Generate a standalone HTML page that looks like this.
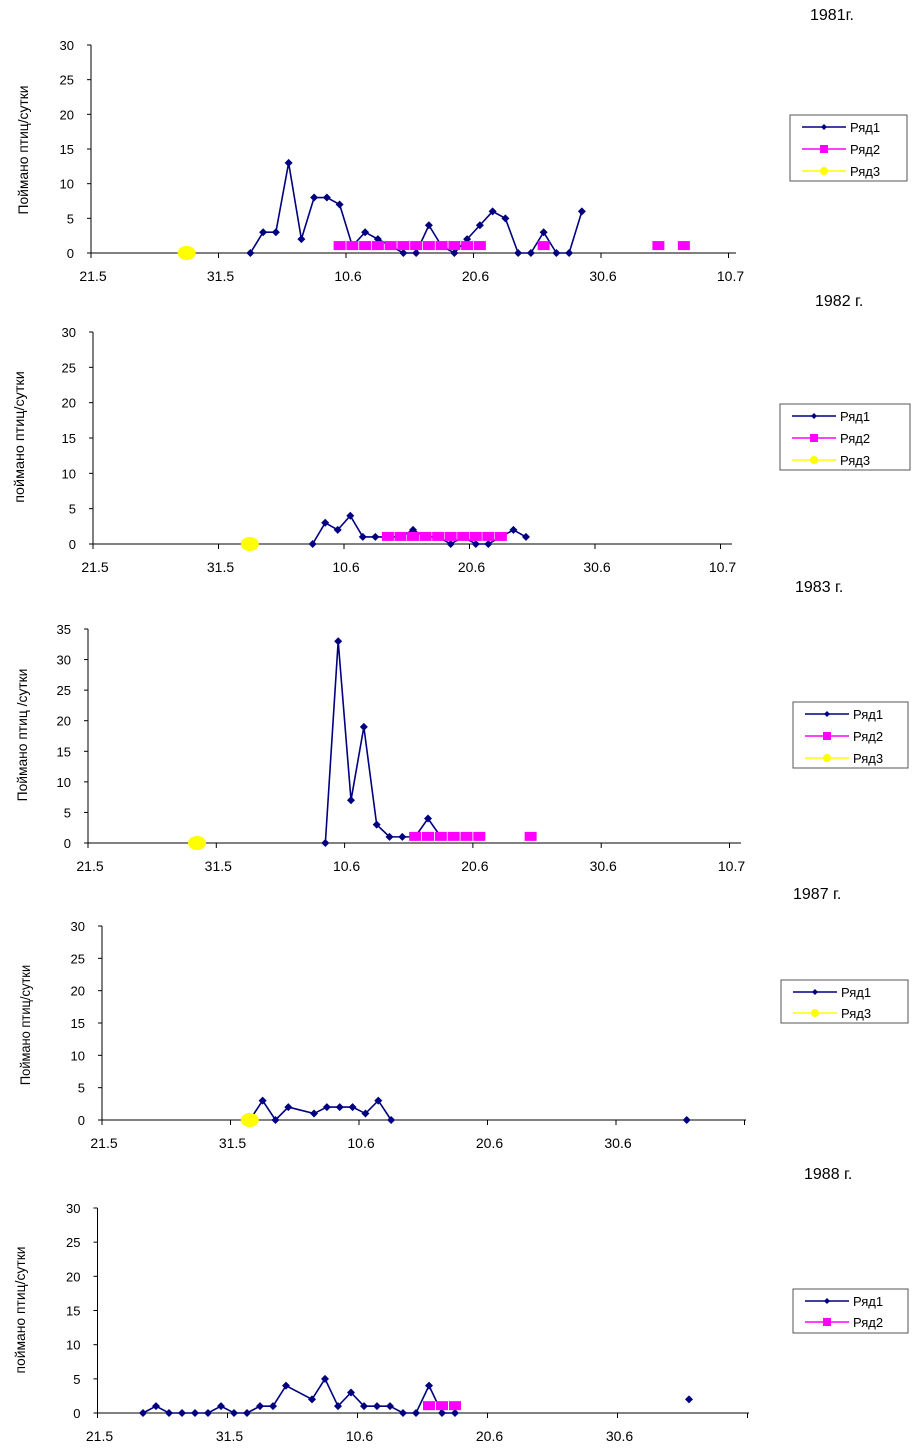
<!DOCTYPE html>
<html><head><meta charset="utf-8"><style>
html,body{margin:0;padding:0;background:#fff;}
body{width:913px;height:1449px;overflow:hidden;position:relative;font-family:"Liberation Sans",sans-serif;}
svg{position:absolute;left:0;top:0;}
</style></head><body>
<svg id="c" width="913" height="1449" xmlns="http://www.w3.org/2000/svg"></svg>
<script>
// day index: 0 = 21.5
const xTickLabels = ["21.5","31.5","10.6","20.6","30.6","10.7"];
const years = ["1981г.","1982 г.","1983 г.","1987 г.","1988 г."];
const yAxisTitles = ["Поймано птиц/сутки","поймано птиц/сутки","Поймано птиц /сутки","Поймано птиц/сутки","поймано птиц/сутки"];

const s1Days_1981 = [12,13,14,15,16,17,18,19,20,21,22,23,24,25,26,27,28,29,30,31,32,33,34,35,36,37,38];
const s1Vals_1981 = [0,3,3,13,2,8,8,7,1,3,2,1,0,0,4,1,0,2,4,6,5,0,0,3,0,0,6];
const s2Days_1981 = [19,20,21,22,23,24,25,26,27,28,29,30,35,44,46];
const s2Vals_1981 = [1,1,1,1,1,1,1,1,1,1,1,1,1,1,1];
const s3Days_1981 = [7];
const s3Vals_1981 = [0];

const s1Days_1982 = [17,18,19,20,21,22,23,24,25,26,27,28,29,30,31,32,33,34];
const s1Vals_1982 = [0,3,2,4,1,1,1,1,2,1,1,0,1,0,0,1,2,1];
const s2Days_1982 = [23,24,25,26,27,28,29,30,31,32];
const s2Vals_1982 = [1,1,1,1,1,1,1,1,1,1];
const s3Days_1982 = [12];
const s3Vals_1982 = [0];

const s1Days_1983 = [18,19,20,21,22,23,24,25,26,27];
const s1Vals_1983 = [0,33,7,19,3,1,1,1,4,1];
const s2Days_1983 = [25,26,27,28,29,30,34];
const s2Vals_1983 = [1,1,1,1,1,1,1];
const s3Days_1983 = [8];
const s3Vals_1983 = [0];

const s1Days_1987 = [11,12,13,14,16,17,18,19,20,21,22,45];
const s1Vals_1987 = [0,3,0,2,1,2,2,2,1,3,0,0];
const s3Days_1987 = [11];
const s3Vals_1987 = [0];

const s1Days_1988 = [3,4,5,6,7,8,9,10,11,12,13,14,16,17,18,19,20,21,22,23,24,25,26,27,45];
const s1Vals_1988 = [0,1,0,0,0,0,1,0,0,1,1,4,2,5,1,3,1,1,1,0,0,4,0,0,2];
const s2Days_1988 = [25,26,27];
const s2Vals_1988 = [1,1,1];

const svg = document.getElementById('c');
const NS = "http://www.w3.org/2000/svg";
function mk(tag, attrs, parent){
  const e = document.createElementNS(NS, tag);
  for (const k in attrs) e.setAttribute(k, attrs[k]);
  (parent||svg).appendChild(e); return e;
}

const layouts = [
 {x0:91,dpx:12.75,y0:253,top:45,ymax:30,right:736,nlab:6,title:[810,20],yt:[28,150],leg:[790,115,117,66,3]},
 {x0:93,dpx:12.55,y0:544,top:332,ymax:30,right:732,nlab:6,title:[815,306],yt:[24,437],leg:[780,404,130,66,3]},
 {x0:88,dpx:12.83,y0:843,top:629,ymax:35,right:741,nlab:6,title:[795,592],yt:[27,735],leg:[793,702,115,66,3]},
 {x0:102,dpx:12.85,y0:1120,top:926,ymax:30,right:746,nlab:5,title:[793,899],yt:[30,1025],leg:[781,980,127,43,2]},
 {x0:97.5,dpx:13.0,y0:1413,top:1208,ymax:30,right:749,nlab:5,title:[804,1179],yt:[25,1310],leg:[793,1289,115,44,2]},
];
const allData = [
 [[s1Days_1981,s1Vals_1981],[s2Days_1981,s2Vals_1981],[s3Days_1981,s3Vals_1981]],
 [[s1Days_1982,s1Vals_1982],[s2Days_1982,s2Vals_1982],[s3Days_1982,s3Vals_1982]],
 [[s1Days_1983,s1Vals_1983],[s2Days_1983,s2Vals_1983],[s3Days_1983,s3Vals_1983]],
 [[s1Days_1987,s1Vals_1987],null,[s3Days_1987,s3Vals_1987]],
 [[s1Days_1988,s1Vals_1988],[s2Days_1988,s2Vals_1988],null],
];
const legendNames = [["Ряд1","Ряд2","Ряд3"],["Ряд1","Ряд2","Ряд3"],["Ряд1","Ряд2","Ряд3"],["Ряд1","Ряд3"],["Ряд1","Ряд2"]];

function diamond(g,x,y){
  const p = mk('polygon',{points:`${x},${y-4} ${x+4},${y} ${x},${y+4} ${x-4},${y}`,fill:'#000080'},g);
  
  
}
function square(g,x,y){
  const r = mk('rect',{x:x-6,y:y-5,width:12,height:9,fill:'#ff00ff'},g);
  
  
}
function circle(g,x,y){
  const c = mk('ellipse',{cx:x,cy:y,rx:9,ry:7,fill:'#ffff00'},g);
  
  
}

layouts.forEach((L,i)=>{
  const g = mk('g',{});
  
  
  const sx = d => L.x0 + (d+0.5)*L.dpx;
  const sy = v => L.y0 - v*(L.y0-L.top)/L.ymax;
  const t = mk('text',{x:L.title[0],y:L.title[1],'font-size':16,fill:'#000'},g);
  t.textContent = years[i];
  
  
  const yt = mk('text',{x:0,y:0,'font-size':14,fill:'#000','text-anchor':'middle',transform:`translate(${L.yt[0]},${L.yt[1]}) rotate(-90)`,textLength:(L.y0-L.top)*0.62,lengthAdjust:'spacingAndGlyphs'},g);
  yt.textContent = yAxisTitles[i];
  
  
  mk('line',{x1:L.x0,y1:L.top,x2:L.x0,y2:L.y0,stroke:'#000','stroke-width':1},g);
  mk('line',{x1:L.x0,y1:L.y0,x2:L.right,y2:L.y0,stroke:'#000','stroke-width':1},g);
  for(let v=0; v<=L.ymax; v+=5){
    const y=sy(v);
    mk('line',{x1:L.x0-4,y1:y,x2:L.x0,y2:y,stroke:'#000'},g);
    const tx = mk('text',{x:L.x0-17,y:y+5,'font-size':13,'text-anchor':'end',fill:'#000'},g);
    tx.textContent = v;
    
    
  }
  for(let k=0;k<xTickLabels.length;k++){
    const x = L.x0 + k*10*L.dpx;
    if (x > L.right+1) break;
    mk('line',{x1:x,y1:L.y0,x2:x,y2:L.y0+5,stroke:'#000'},g);
    if (k < L.nlab){
      const tx = mk('text',{x:x+2,y:L.y0+28,'font-size':14,'text-anchor':'middle',fill:'#000'},g);
      tx.textContent = xTickLabels[k];
      
      
    }
  }
  const D = allData[i];
  const [d1,v1] = D[0];
  let path='';
  for(let j=0;j<d1.length;j++){
    const brk = j===0 || d1[j]-d1[j-1] > 5;
    path += (brk?'M':'L') + sx(d1[j]) + ',' + sy(v1[j]) + ' ';
  }
  const pl = mk('path',{d:path,fill:'none',stroke:'#000080','stroke-width':1.6},g);
  
  
  for(let j=0;j<d1.length;j++) diamond(g,sx(d1[j]),sy(v1[j]));
  if (D[1]) { const [d,v]=D[1]; for(let j=0;j<d.length;j++) square(g,sx(d[j]),sy(v[j])); }
  if (D[2]) { const [d,v]=D[2]; for(let j=0;j<d.length;j++) circle(g,sx(d[j]),sy(v[j])); }
  const [lx,ly,lw,lh,n] = L.leg;
  const lg = mk('g',{},g);
  
  
  mk('rect',{x:lx,y:ly,width:lw,height:lh,fill:'#fff',stroke:'#555','stroke-width':1},lg);
  const names = legendNames[i];
  const step = n===3 ? 22 : 21;
  names.forEach((nm,k)=>{
    const yy = ly + 12 + k*step;
    const col = nm==='Ряд1' ? '#000080' : nm==='Ряд2' ? '#ff00ff' : '#ffff00';
    const lx1 = lx+12, lx2 = lx+56;
    mk('line',{x1:lx1,y1:yy,x2:lx2,y2:yy,stroke:col,'stroke-width':1.5},lg);
    const mx=(lx1+lx2)/2;
    if(nm==='Ряд1') mk('polygon',{points:`${mx},${yy-3} ${mx+3},${yy} ${mx},${yy+3} ${mx-3},${yy}`,fill:col},lg);
    else if(nm==='Ряд2') mk('rect',{x:mx-4,y:yy-4,width:8,height:8,fill:col},lg);
    else mk('circle',{cx:mx,cy:yy,r:4,fill:col},lg);
    const tx = mk('text',{x:lx2+4,y:yy+5,'font-size':13,fill:'#000'},lg);
    tx.textContent = nm;
    
    
  });
});
</script>
</body></html>
